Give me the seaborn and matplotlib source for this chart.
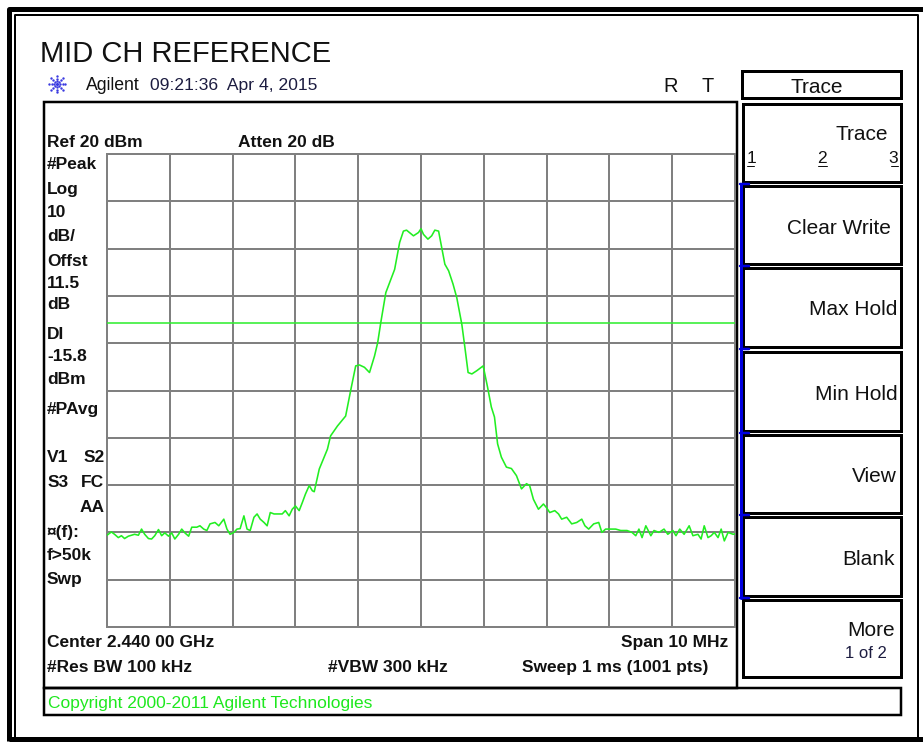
import numpy as np
import pandas as pd
import seaborn as sns
import matplotlib
matplotlib.use("Agg")
import matplotlib.pyplot as plt
from matplotlib.patches import Rectangle

# ---- instrument settings ----
title = "MID CH REFERENCE"
center_ghz = 2.440
span_mhz = 10
ref_level_dbm = 20
db_per_div = 10
display_line_dbm = -15.8

# ---- measured trace (offset from start frequency in MHz, level in dBm) ----
freq_offset_mhz = [
    0.00, 0.02, 0.07, 0.12, 0.18, 0.23, 0.28, 0.34, 0.39, 0.44, 0.50, 0.55, 0.60,
    0.66, 0.71, 0.76, 0.82, 0.87, 0.92, 0.98, 1.03, 1.08, 1.14, 1.19, 1.24, 1.30,
    1.35, 1.43, 1.48, 1.54, 1.59, 1.64, 1.72, 1.78, 1.86, 1.91, 1.96, 2.02, 2.07,
    2.12, 2.18, 2.23, 2.28, 2.34, 2.39, 2.44, 2.50, 2.55, 2.60, 2.66, 2.71, 2.79,
    2.84, 2.90, 2.95, 3.00, 3.06, 3.11, 3.16, 3.22, 3.27, 3.30, 3.38, 3.51, 3.56,
    3.67, 3.80, 3.88, 3.96, 4.02, 4.10, 4.18, 4.26, 4.31, 4.36, 4.44, 4.50, 4.58,
    4.66, 4.72, 4.77, 4.88, 4.96, 5.00, 5.04, 5.11, 5.17, 5.22, 5.28, 5.32, 5.38,
    5.44, 5.51, 5.57, 5.65, 5.70, 5.75, 5.81, 5.89, 5.99, 6.06, 6.12, 6.17, 6.22,
    6.28, 6.36, 6.44, 6.52, 6.60, 6.68, 6.73, 6.79, 6.87, 6.95, 7.00, 7.05, 7.13,
    7.19, 7.24, 7.32, 7.40, 7.48, 7.56, 7.61, 7.67, 7.75, 7.83, 7.88, 7.94, 8.02,
    8.10, 8.18, 8.28, 8.36, 8.42, 8.47, 8.52, 8.58, 8.66, 8.71, 8.79, 8.87, 8.93,
    9.01, 9.06, 9.12, 9.19, 9.27, 9.33, 9.41, 9.46, 9.51, 9.57, 9.62, 9.67, 9.73,
    9.78, 9.83, 9.89, 9.97, 10.00,
]
level_dbm = [
    -60.6, -60.4, -59.9, -60.4, -61.1, -60.7, -61.3, -60.8, -60.6, -60.4, -60.6, -59.3, -60.4,
    -61.3, -61.4, -60.7, -59.4, -60.7, -60.1, -60.8, -60.1, -61.4, -60.4, -59.3, -60.1, -60.8,
    -58.9, -58.9, -58.6, -59.3, -59.6, -58.2, -57.9, -58.6, -57.2, -59.3, -60.4, -60.0, -59.3,
    -59.2, -56.5, -59.3, -59.6, -56.8, -56.1, -57.2, -57.9, -58.6, -55.8, -56.1, -56.1, -56.1,
    -55.4, -56.5, -55.1, -54.4, -55.4, -53.7, -51.9, -50.1, -51.2, -51.4, -46.6, -42.4, -39.6,
    -37.5, -35.4, -30.0, -24.8, -24.6, -25.1, -26.2, -22.7, -19.9, -15.6, -9.3, -7.2, -4.4,
    1.3, 3.7, 3.9, 2.7, 3.4, 4.2, 3.0, 2.0, 2.7, 3.9, 3.7, 0.9, -3.3,
    -4.7, -7.5, -10.4, -16.0, -21.0, -26.2, -26.5, -25.8, -24.8, -29.3, -33.5, -35.6, -41.3,
    -44.1, -46.2, -46.5, -48.0, -50.8, -49.7, -50.1, -53.0, -55.1, -54.0, -54.8, -55.8, -55.4,
    -56.1, -57.2, -56.8, -58.2, -57.9, -57.2, -58.6, -59.3, -58.2, -57.9, -60.0, -59.3, -59.3,
    -59.3, -59.6, -59.6, -60.0, -60.7, -59.3, -61.1, -58.6, -60.7, -59.6, -60.0, -59.3, -60.4,
    -59.6, -60.7, -59.3, -60.4, -58.6, -60.7, -60.4, -61.4, -58.6, -61.1, -60.7, -60.0, -61.1,
    -59.3, -61.8, -60.0, -60.4, -60.3,
]

left_labels = ["#Peak", "Log", "10", "dB/", "Offst", "11.5", "dB", "DI", "-15.8",
               "dBm", "#PAvg", "\u00a4(f):", "f>50k", "Swp"]
left_label_y = [163, 188, 211, 235, 260, 282, 303, 333, 355, 378, 408, 531, 554, 578]

softkeys = ["Clear Write", "Max Hold", "Min Hold", "View", "Blank", "More"]
softkey_y = [227, 308, 393, 475, 558, 629]
softkey_right = [891, 897, 898, 897, 895, 895]

W, H = 923, 742
sns.set_style("white")
plt.rcParams["font.family"] = ["Liberation Sans", "DejaVu Sans"]

fig = plt.figure(figsize=(W / 100, H / 100), dpi=100)
fig.patch.set_facecolor("white")

# overlay in pixel coordinates for frames and annotations
ov = fig.add_axes([0, 0, 1, 1], zorder=0)
ov.set_xlim(0, W)
ov.set_ylim(H, 0)
ov.axis("off")

PX = 0.72  # points per pixel


def txt(x, y, s, size, ha="left", weight="normal", color="#111111"):
    base = y + 0.358 * size * 100 / 72
    ov.text(x, base, s, fontsize=size, ha=ha, va="baseline",
            fontweight=weight, color=color)


def box(x0, y0, x1, y1, lw_px=2.0, color="black"):
    ov.add_patch(Rectangle((x0, y0), x1 - x0, y1 - y0, fill=False,
                           lw=lw_px * PX, edgecolor=color))


# outer double frame
ov.plot([9, 9, W], [741, 9, 9], color="black", lw=5 * PX, solid_capstyle="butt")
ov.plot([9, W], [739, 739], color="black", lw=5 * PX, solid_capstyle="butt")
ov.plot([15, 15, 918, 918], [739, 15, 15, 739], color="black", lw=2 * PX)

# screen frame and status bar
box(44, 102, 737, 688, lw_px=2.5)
box(44, 688, 901, 715, lw_px=2.5)

# softkey panel
box(742, 71, 901, 98, lw_px=3)
key_rows = [(104, 182), (186, 264), (268, 347), (352, 431), (435, 513), (517, 596), (600, 677)]
for y0, y1 in key_rows:
    box(743, y0, 901, y1, lw_px=3)
ov.plot([741, 741], [184, 598], color="#0000e0", lw=3 * PX)
for yb in [184, 266, 349, 433, 515, 598]:
    ov.plot([740, 749], [yb, yb], color="#0000e0", lw=2.5 * PX)

# title and header
txt(40, 52, title, 21)
ang = np.linspace(0, 2 * np.pi, 8, endpoint=False)
for r in [3, 5.5, 8]:
    ov.scatter(57 + r * np.cos(ang), 84 + r * np.sin(ang), s=3, color="#3a3ae0", lw=0)
ov.scatter([57], [84], s=5, color="#3a3ae0", lw=0)
txt(86, 84, "Agilent", 12.7)
txt(150, 84, "09:21:36  Apr 4, 2015", 12.6, color="#1c1c40")
txt(663, 85, "R", 14.4)
txt(702, 85, "T", 14.4)

# settings annotations
txt(47, 141, "Ref 20 dBm", 12.5, weight="bold")
txt(238, 141, "Atten 20 dB", 12.5, weight="bold")
for s, y in zip(left_labels, left_label_y):
    txt(47, y, s, 12.5, weight="bold")
txt(47, 456, "V1", 12.5, weight="bold")
txt(105, 456, "S2", 12.5, ha="right", weight="bold")
txt(48, 481, "S3", 12.5, weight="bold")
txt(104, 481, "FC", 12.5, ha="right", weight="bold")
txt(105, 506, "AA", 12.5, ha="right", weight="bold")

txt(47, 641, f"Center {center_ghz:.3f} 00 GHz", 12.5, weight="bold")
txt(728, 641, f"Span {span_mhz} MHz", 12.5, ha="right", weight="bold")
txt(47, 666, "#Res BW 100 kHz", 12.5, weight="bold")
txt(328, 666, "#VBW 300 kHz", 12.5, weight="bold")
txt(708, 666, "Sweep 1 ms (1001 pts)", 12.5, ha="right", weight="bold")
txt(48, 702, "Copyright 2000-2011 Agilent Technologies", 12.5, color="#1ee81e")

# softkey labels
txt(817, 86, "Trace", 15, ha="center")
txt(888, 133, "Trace", 15, ha="right")
for s, x, ha in [("1", 747, "left"), ("2", 822, "center"), ("3", 898, "right")]:
    txt(x, 157, s, 12.5, ha=ha)
for x0, x1 in [(747, 754), (818, 827), (891, 898)]:
    ov.plot([x0, x1], [166, 166], color="#111111", lw=1 * PX)
for s, y, xr in zip(softkeys, softkey_y, softkey_right):
    txt(xr, y, s, 15, ha="right")
txt(866, 652, "1 of 2", 12, ha="center", color="#1c1c40")

# ---- measurement graticule ----
x0, y0, x1, y1 = 107, 154, 735, 627
ax = fig.add_axes([x0 / W, 1 - y1 / H, (x1 - x0) / W, (y1 - y0) / H], zorder=2)
f_start = center_ghz * 1000 - span_mhz / 2
df = pd.DataFrame({
    "freq": f_start + np.array(freq_offset_mhz),
    "level": np.array(level_dbm),
})
grid_color = "#808080"
ax.axhline(display_line_dbm, color="#33ee33", lw=1.6 * PX, zorder=3)
sns.lineplot(data=df, x="freq", y="level", ax=ax, color="#22ee22",
             lw=1.6 * PX, zorder=4)
ax.set_xlim(f_start, f_start + span_mhz)
ax.set_ylim(ref_level_dbm - 10 * db_per_div, ref_level_dbm)
ax.set_xticks(np.arange(f_start, f_start + span_mhz + 0.1, 1))
ax.set_yticks(np.arange(ref_level_dbm - 10 * db_per_div, ref_level_dbm + 1, db_per_div))
ax.grid(True, color=grid_color, lw=2 * PX)
ax.tick_params(length=0, labelbottom=False, labelleft=False)
ax.set_xlabel("")
ax.set_ylabel("")
for sp in ax.spines.values():
    sp.set_color(grid_color)
    sp.set_linewidth(2 * PX)
ax.set_facecolor("white")

fig.savefig("out.png", dpi=100)
